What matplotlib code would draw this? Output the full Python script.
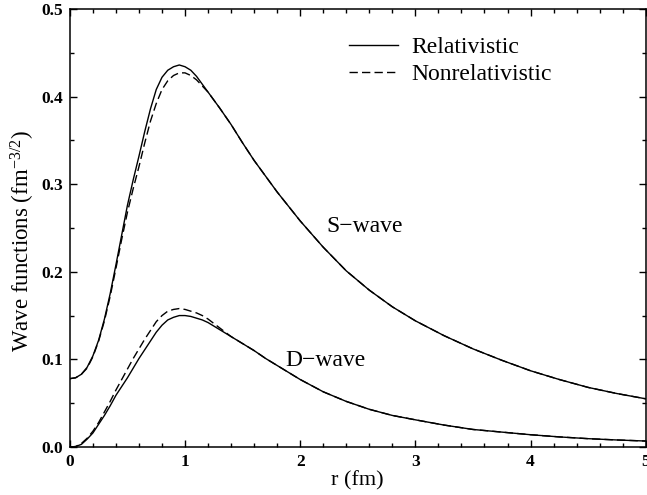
import matplotlib
matplotlib.use("Agg")
import matplotlib.pyplot as plt
from matplotlib.ticker import MultipleLocator

plt.rcParams["font.family"] = ["Liberation Serif", "DejaVu Serif"]
plt.rcParams["mathtext.fontset"] = "custom"
plt.rcParams["mathtext.rm"] = "Liberation Serif"
plt.rcParams["mathtext.it"] = "Liberation Serif:italic"
plt.rcParams["mathtext.bf"] = "Liberation Serif:bold"

# radial grid (fm)
r = [0.0, 0.05, 0.1, 0.15, 0.2, 0.25, 0.3, 0.35, 0.4, 0.45, 0.5, 0.55, 0.6,
     0.65, 0.7, 0.75, 0.8, 0.85, 0.9, 0.95, 1.0, 1.05, 1.1, 1.15, 1.2, 1.3,
     1.4, 1.5, 1.6, 1.7, 1.8, 2.0, 2.2, 2.4, 2.6, 2.8, 3.0, 3.25, 3.5, 3.75,
     4.0, 4.25, 4.5, 4.75, 5.0]

# S-wave
s_rel = [0.078, 0.079, 0.083, 0.091, 0.104, 0.122, 0.146, 0.175, 0.208, 0.242,
         0.276, 0.305, 0.332, 0.360, 0.386, 0.408, 0.422, 0.430, 0.434, 0.436,
         0.434, 0.430, 0.423, 0.414, 0.405, 0.387, 0.368, 0.347, 0.327, 0.309,
         0.291, 0.258, 0.228, 0.201, 0.179, 0.160, 0.144, 0.127, 0.112, 0.099,
         0.087, 0.077, 0.068, 0.061, 0.055]
s_nonrel = [0.078, 0.079, 0.083, 0.090, 0.103, 0.121, 0.144, 0.172, 0.204, 0.237,
            0.268, 0.295, 0.320, 0.347, 0.372, 0.392, 0.408, 0.418, 0.424, 0.427,
            0.427, 0.424, 0.419, 0.412, 0.405, 0.387, 0.368, 0.347, 0.327, 0.309,
            0.291, 0.258, 0.228, 0.201, 0.179, 0.160, 0.144, 0.127, 0.112, 0.099,
            0.087, 0.077, 0.068, 0.061, 0.055]

# D-wave
d_rel = [0.0, 0.0005, 0.003, 0.009, 0.016, 0.026, 0.036, 0.047, 0.059, 0.069,
         0.079, 0.090, 0.101, 0.111, 0.121, 0.131, 0.139, 0.145, 0.148, 0.150,
         0.150, 0.149, 0.147, 0.145, 0.142, 0.134, 0.126, 0.118, 0.110, 0.101,
         0.093, 0.077, 0.063, 0.052, 0.043, 0.036, 0.031, 0.025, 0.020, 0.017,
         0.014, 0.0115, 0.0095, 0.008, 0.0068]
d_nonrel = [0.0, 0.0005, 0.004, 0.010, 0.018, 0.028, 0.040, 0.052, 0.065, 0.077,
            0.089, 0.101, 0.112, 0.123, 0.133, 0.143, 0.150, 0.155, 0.157, 0.158,
            0.157, 0.155, 0.153, 0.150, 0.146, 0.136, 0.126, 0.118, 0.110, 0.101,
            0.093, 0.077, 0.063, 0.052, 0.043, 0.036, 0.031, 0.025, 0.020, 0.017,
            0.014, 0.0115, 0.0095, 0.008, 0.0068]

x_ticks = [0, 1, 2, 3, 4, 5]
x_tick_labels = ["0", "1", "2", "3", "4", "5"]
y_ticks = [0.0, 0.1, 0.2, 0.3, 0.4, 0.5]
y_tick_labels = ["0.0", "0.1", "0.2", "0.3", "0.4", "0.5"]

fig = plt.figure(figsize=(6.47, 4.95), dpi=100)
ax = fig.add_axes([0.108, 0.097, 0.890, 0.885])

ax.plot(r, s_rel, color="black", lw=1.0, label="Relativistic")
ax.plot(r, s_nonrel, color="black", lw=1.0, ls=(0, (6, 3)), label="Nonrelativistic")
ax.plot(r, d_rel, color="black", lw=1.0)
ax.plot(r, d_nonrel, color="black", lw=1.0, ls=(0, (6, 3)))

ax.set_xlim(0, 5)
ax.set_ylim(0, 0.5)
ax.set_xticks(x_ticks, x_tick_labels, fontweight="bold")
ax.set_yticks(y_ticks, y_tick_labels, fontweight="bold")
ax.xaxis.set_minor_locator(MultipleLocator(0.2))
ax.yaxis.set_minor_locator(MultipleLocator(0.05))
ax.tick_params(which="both", direction="in", top=True, right=True, width=1.0)
ax.tick_params(which="major", length=5, labelsize=12.5, pad=5)
ax.tick_params(which="minor", length=3)
for sp in ax.spines.values():
    sp.set_linewidth(1.1)

ax.set_xlabel("r (fm)", fontsize=16, labelpad=1)
ax.set_ylabel(r"Wave functions (fm$^{\mathregular{-3/2}}$)", fontsize=16.5)
ax.yaxis.set_label_coords(-0.057, 0.47)

ax.text(2.56, 0.252, "S\u2212wave", fontsize=17, ha="center", va="center")
ax.text(2.22, 0.099, "D\u2212wave", fontsize=17, ha="center", va="center")

ax.legend(loc="upper left", bbox_to_anchor=(0.484, 0.937), frameon=False,
          fontsize=17, handlelength=2.1, handletextpad=0.55, labelspacing=0.25,
          borderpad=0, borderaxespad=0)

fig.savefig("out.png", dpi=100)
